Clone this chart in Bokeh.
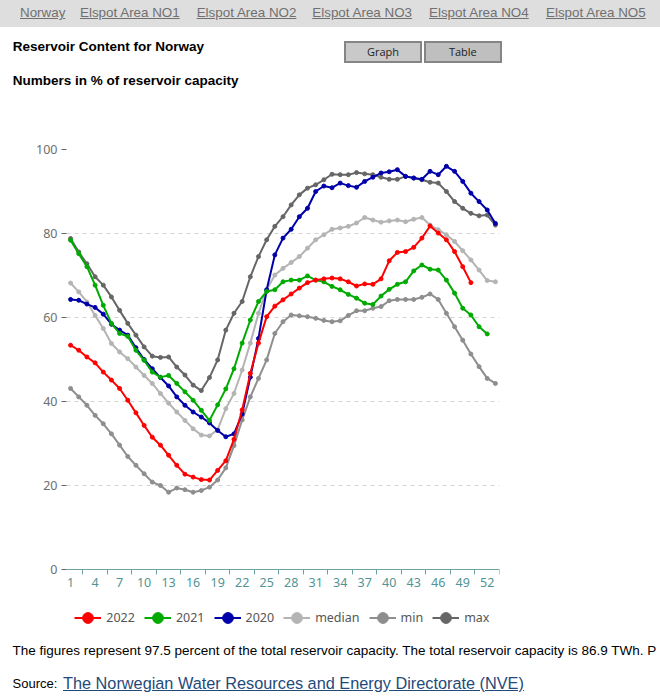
from bokeh.plotting import figure
from bokeh.models import Range1d, FixedTicker, Legend, LegendItem, ColumnDataSource, Div
from bokeh.layouts import column
from bokeh.embed import file_html
from bokeh.resources import INLINE

# ---------------- data ----------------
weeks = list(range(1, 54))
x_tick_labels = [1, 4, 7, 10, 13, 16, 19, 22, 25, 28, 31, 34, 37, 40, 43, 46, 49, 52]
y_ticks = [0, 20, 40, 60, 80, 100]

s2022 = [53.4, 52.2, 50.6, 49.2, 47.0, 45.1, 43.1, 40.3, 37.3, 34.3, 31.5, 29.6, 27.2, 24.8, 22.7,
         22.0, 21.4, 21.3, 23.6, 25.9, 31.0, 38.0, 46.7, 53.9, 60.2, 62.7, 64.2, 65.6, 67.0, 68.3,
         68.9, 69.2, 69.4, 69.2, 68.5, 67.5, 68.0, 67.9, 69.2, 73.5, 75.5, 75.7, 76.7, 78.9, 81.8,
         80.1, 78.5, 75.7, 72.1, 68.3]
s2021 = [78.4, 75.2, 72.1, 67.7, 62.9, 58.6, 56.2, 55.5, 52.2, 49.8, 47.0, 45.8, 46.2, 44.3, 42.3,
         40.3, 37.9, 35.5, 39.2, 43.0, 47.8, 53.9, 59.4, 63.8, 66.2, 66.6, 68.5, 68.9, 68.9, 69.9,
         68.9, 68.5, 67.4, 66.6, 65.5, 64.6, 63.4, 63.1, 65.1, 66.7, 67.9, 68.5, 71.1, 72.5, 71.5,
         71.3, 68.9, 65.8, 62.2, 60.6, 57.8, 56.1]
s2020 = [64.3, 64.1, 63.2, 62.4, 60.8, 58.4, 57.0, 55.8, 52.8, 50.0, 47.8, 45.7, 43.7, 41.1, 39.1,
         37.5, 36.3, 34.9, 33.1, 31.6, 32.3, 37.0, 45.8, 55.0, 66.6, 74.9, 78.9, 81.0, 84.0, 86.0,
         90.0, 91.3, 90.9, 92.0, 91.4, 91.0, 92.4, 93.4, 94.4, 94.7, 95.2, 93.6, 93.2, 92.9, 94.8,
         94.0, 96.0, 94.8, 92.4, 89.6, 87.6, 85.6, 82.4]
s_median = [68.2, 66.1, 63.7, 60.5, 57.4, 53.8, 51.8, 50.2, 48.2, 46.2, 44.3, 41.9, 39.6, 37.5, 35.5,
            33.5, 32.0, 31.8, 33.3, 38.3, 41.9, 47.5, 53.9, 61.0, 66.6, 70.1, 71.7, 73.1, 74.5, 76.5,
            78.5, 79.7, 81.0, 81.3, 81.7, 82.5, 83.8, 83.2, 82.7, 83.0, 83.2, 82.8, 83.4, 83.8, 82.0,
            80.9, 79.7, 78.1, 75.9, 73.7, 71.3, 68.8, 68.5]
s_min = [43.1, 41.1, 39.1, 36.7, 34.7, 32.3, 29.6, 26.9, 24.8, 22.8, 20.8, 20.0, 18.4, 19.4, 19.0,
         18.4, 18.8, 19.6, 21.3, 24.2, 29.5, 35.6, 41.1, 45.5, 49.9, 56.2, 59.0, 60.6, 60.4, 60.2,
         59.8, 59.3, 59.0, 59.2, 60.5, 61.6, 61.6, 62.2, 62.6, 64.0, 64.3, 64.3, 64.3, 64.8, 65.6,
         64.3, 61.0, 57.8, 54.6, 51.3, 48.3, 45.5, 44.3]
s_max = [78.8, 75.6, 72.8, 69.7, 67.7, 64.9, 61.7, 58.6, 55.8, 53.0, 50.8, 50.5, 50.6, 48.2, 46.3,
         43.9, 42.6, 45.7, 49.9, 57.0, 61.0, 63.8, 69.7, 74.5, 78.5, 81.7, 84.0, 86.8, 89.2, 90.8,
         91.6, 92.8, 94.1, 94.0, 94.0, 94.5, 94.2, 94.0, 93.4, 92.9, 92.9, 93.6, 93.2, 92.8, 92.2,
         92.0, 90.0, 87.6, 86.0, 84.8, 84.2, 84.4, 82.0]

series_names = ["2022", "2021", "2020", "median", "min", "max"]
series_values = [s2022, s2021, s2020, s_median, s_min, s_max]
series_colors = ["#ff0000", "#00aa00", "#0000aa", "#b4b4b4", "#8e8e8e", "#666666"]

nav_items = ["Norway", "Elspot Area NO1", "Elspot Area NO2", "Elspot Area NO3",
             "Elspot Area NO4", "Elspot Area NO5"]

# ---------------- layout constants (page pixels) ----------------
W = 660
HEAD_H = 130          # header block height
FIG_BOTTOM = 640      # page y where the figure (and its frame) ends
FL, FR, FT, FB = 66, 499, 149, 569   # plot area: left, right, top (=100), y=0 line
px_per_unit = (FB - FT) / 100.0
y_low = -(FIG_BOTTOM - FB) / px_per_unit   # frame continues below 0 to hold the legend

fig_h = FIG_BOTTOM - HEAD_H
p = figure(width=W, height=fig_h, output_backend="svg", toolbar_location=None,
           x_range=Range1d(0.5, 53.5), y_range=Range1d(y_low, 100),
           min_border_left=FL, min_border_right=W - FR, min_border_top=FT - HEAD_H,
           min_border_bottom=0, margin=0)
p.outline_line_color = None
p.background_fill_color = "white"
p.border_fill_color = "white"

# x axis drawn at y = 0
p.xaxis.fixed_location = 0
p.xaxis.ticker = FixedTicker(ticks=x_tick_labels, minor_ticks=[t + 1.5 for t in x_tick_labels])
p.xaxis.axis_line_color = "#6fa3a3"
p.xaxis.major_tick_line_color = None
p.xaxis.major_tick_out = 0
p.xaxis.major_tick_in = 0
p.xaxis.minor_tick_line_color = "#6fa3a3"
p.xaxis.minor_tick_out = 5
p.xaxis.minor_tick_in = 0
p.xaxis.major_label_standoff = 3
p.xaxis.major_label_text_color = "#4f9595"
p.xaxis.major_label_text_font = "Noto Sans"
p.xaxis.major_label_text_font_size = "12.5px"

p.yaxis.ticker = FixedTicker(ticks=y_ticks)
p.yaxis.axis_line_color = None
p.yaxis.major_tick_line_color = "#666666"
p.yaxis.major_tick_out = 5
p.yaxis.major_tick_in = 0
p.yaxis.minor_tick_line_color = None
p.yaxis.major_label_standoff = 4
p.yaxis.major_label_text_color = "#6e6e6e"
p.yaxis.major_label_text_font = "Noto Sans"
p.yaxis.major_label_text_font_size = "12.5px"

p.xgrid.grid_line_color = None
p.ygrid.ticker = FixedTicker(ticks=y_ticks)
p.ygrid.grid_line_color = "#d4d4d4"
p.ygrid.grid_line_dash = "4 4"

# series
sources = {}
for name, vals, col in zip(series_names, series_values, series_colors):
    sources[name] = (ColumnDataSource(dict(x=weeks[:len(vals)], y=vals)), col)

draw_order = ["max", "min", "median", "2020", "2021", "2022"]
rmap = {}
for name in draw_order:
    src, col = sources[name]
    lr = p.line("x", "y", source=src, line_color=col, line_width=2)
    sr = p.scatter("x", "y", source=src, size=4, fill_color=col, line_color=col)
    rmap[name] = [lr, sr]

# legend inside the (extended) frame, below the axis
LEG_GLYPH = 27
leg_left = 74.3 - FL
leg_bottom = FIG_BOTTOM - (617.7 + LEG_GLYPH / 2)
items = [LegendItem(label=name, renderers=rmap[name]) for name in series_names]
legend = Legend(items=items, orientation="horizontal", location=(leg_left, leg_bottom),
                padding=0, margin=0, spacing=9, label_standoff=5,
                glyph_width=LEG_GLYPH, glyph_height=LEG_GLYPH,
                label_text_font="Noto Sans", label_text_font_size="12.5px",
                label_text_color="#555555", border_line_color=None,
                background_fill_alpha=0)
p.add_layout(legend, "center")


# ---------------- page texts (HTML) ----------------
def span(t, left, baseline, size, color, extra="", top0=0):
    top = baseline - 0.8465 * size - top0
    return (f'<div style="position:absolute;left:{left}px;top:{top:.1f}px;font-size:{size}px;'
            f'line-height:1;white-space:nowrap;color:{color};'
            f'font-family:\'Liberation Sans\',Arial,sans-serif;{extra}">{t}</div>')


def button(t, left, top, w, h, fill):
    return (f'<div style="position:absolute;left:{left}px;top:{top}px;width:{w}px;height:{h}px;'
            f'box-sizing:border-box;border:2px solid #858585;background:{fill};display:flex;'
            f'align-items:center;justify-content:center;font-family:\'Open Sans\',sans-serif;'
            f'font-size:11px;color:#222;">{t}</div>')


nav_x = [20, 80, 196.7, 312.3, 429, 546]
head = ['<div style="position:relative;width:660px;height:130px;overflow:hidden;">',
        '<div style="position:absolute;left:0;top:0;width:660px;height:27px;background:#dedede;"></div>']
for t, x0 in zip(nav_items, nav_x):
    head.append(span(t, x0, 17.3, 13.4, "#707070", "text-decoration:underline;"))
head.append(span("Reservoir Content for Norway", 12.7, 51.7, 13.5, "#000", "font-weight:bold;"))
head.append(span("Numbers in % of reservoir capacity", 12.7, 85, 13.5, "#000", "font-weight:bold;"))
head.append(button("Graph", 344.3, 40.7, 77.4, 22, "#c9c9c9"))
head.append(button("Table", 424.0, 40.7, 77.7, 22, "#bfbfbf"))
head.append('</div>')
header = Div(text="".join(head), width=W, height=HEAD_H, margin=0)

off = FIG_BOTTOM
foot = [f'<div style="position:relative;width:660px;height:{700 - off}px;overflow:hidden;">']
foot.append(span("The figures represent 97.5 percent of the total reservoir capacity. "
                 "The total reservoir capacity is 86.9 TWh. P", 12.5, 655, 13.5, "#000", top0=off))
foot.append(span("Source:", 12.5, 688, 13, "#000", top0=off))
foot.append(span("The Norwegian Water Resources and Energy Directorate (NVE)", 63, 688.5, 16.3,
                 "#1f4a7a", "text-decoration:underline;", top0=off))
foot.append('</div>')
footer = Div(text="".join(foot), width=W, height=700 - off, margin=0)

page = column(header, p, footer, spacing=0, margin=0)
open("out.html", "w").write(file_html(page, INLINE))
